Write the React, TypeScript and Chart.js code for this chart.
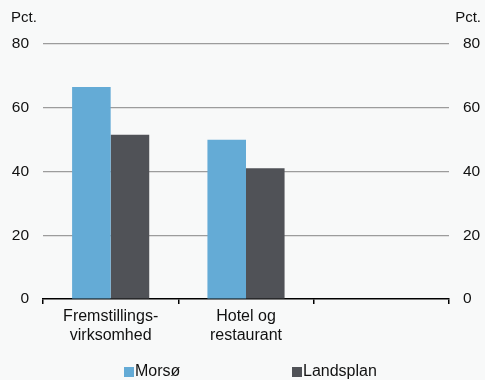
import React, { useEffect, useRef } from "react";
import { Chart, registerables } from "chart.js";

Chart.register(...registerables);

const categories: (string | string[])[] = [["Fremstillings-", "virksomhed"], ["Hotel og", "restaurant"], ""];
const morsoValues = [66.5, 50, null];
const landsplanValues = [51.5, 41, null];
const seriesNames = ["Morsø", "Landsplan"];
const yTicks = [0, 20, 40, 60, 80];
const unitLabel = "Pct.";

const FONT = "'Liberation Sans', Arial, sans-serif";
const TEXT = "#111111";
const BLUE = "#64abd6";
const DARK = "#505257";

const overlayPlugin = {
  id: "overlay",
  afterDraw(chart: any) {
    const ctx = chart.ctx;
    ctx.save();
    ctx.fillStyle = TEXT;
    ctx.font = `15px ${FONT}`;
    ctx.textBaseline = "middle";
    ctx.textAlign = "left";
    ctx.fillText(unitLabel, 11, 18);
    ctx.textAlign = "right";
    ctx.fillText(unitLabel, 481, 18);
    // legend
    const colors = [BLUE, DARK];
    const xs = [124, 292];
    ctx.font = `16px ${FONT}`;
    ctx.textAlign = "left";
    seriesNames.forEach((n, i) => {
      ctx.fillStyle = colors[i];
      ctx.fillRect(xs[i], 367, 10, 10);
      ctx.fillStyle = TEXT;
      ctx.fillText(n, xs[i] + 11, 372);
    });
    ctx.restore();
  },
};

export default function App() {
  const ref = useRef<HTMLCanvasElement>(null);
  useEffect(() => {
    const chart = new Chart(ref.current!, {
      type: "bar",
      data: {
        labels: categories,
        datasets: [
          { label: seriesNames[0], data: morsoValues, backgroundColor: BLUE, yAxisID: "y" },
          { label: seriesNames[1], data: landsplanValues, backgroundColor: DARK, yAxisID: "y" },
        ],
      },
      options: {
        animation: false,
        responsive: false,
        maintainAspectRatio: false,
        layout: { padding: { top: 44, left: 0, right: 0, bottom: 0 } },
        plugins: { legend: { display: false }, tooltip: { enabled: false } },
        datasets: { bar: { barPercentage: 1, categoryPercentage: 0.57 } },
        scales: {
          x: {
            grid: { display: true, drawOnChartArea: false, drawTicks: true, tickLength: 5, color: "#000", lineWidth: 1.5, offset: true },
            border: { display: true, color: "#000", width: 1.5 },
            ticks: { color: TEXT, font: { family: FONT, size: 16, lineHeight: 1.2 }, padding: 3, maxRotation: 0, autoSkip: false },
            afterFit: (s: any) => { s.height = 81; },
          },
          y: {
            position: "left",
            min: 0,
            max: 80,
            afterBuildTicks: (s: any) => { s.ticks = yTicks.map((v) => ({ value: v })); },
            grid: { color: (c: any) => (c.tick && c.tick.value === 0 ? "rgba(0,0,0,0)" : "#9c9c9c"), lineWidth: 1.2, drawTicks: false },
            border: { display: false },
            ticks: { color: TEXT, font: { family: FONT, size: 15.5 }, padding: 14 },
            afterFit: (s: any) => { s.width = 43; },
          },
          y2: {
            position: "right",
            min: 0,
            max: 80,
            afterBuildTicks: (s: any) => { s.ticks = yTicks.map((v) => ({ value: v })); },
            grid: { display: false, drawTicks: false },
            border: { display: false },
            ticks: { color: TEXT, font: { family: FONT, size: 15.5 }, padding: 14 },
            afterFit: (s: any) => { s.width = 36; },
          },
        },
      },
      plugins: [overlayPlugin],
    });
    return () => chart.destroy();
  }, []);
  return (
    <div style={{ position: "fixed", left: 0, top: 0, width: 485, height: 380, background: "#f8f9f9" }}>
      <canvas ref={ref} width={485} height={380} style={{ width: 485, height: 380, display: "block" }} />
    </div>
  );
}
